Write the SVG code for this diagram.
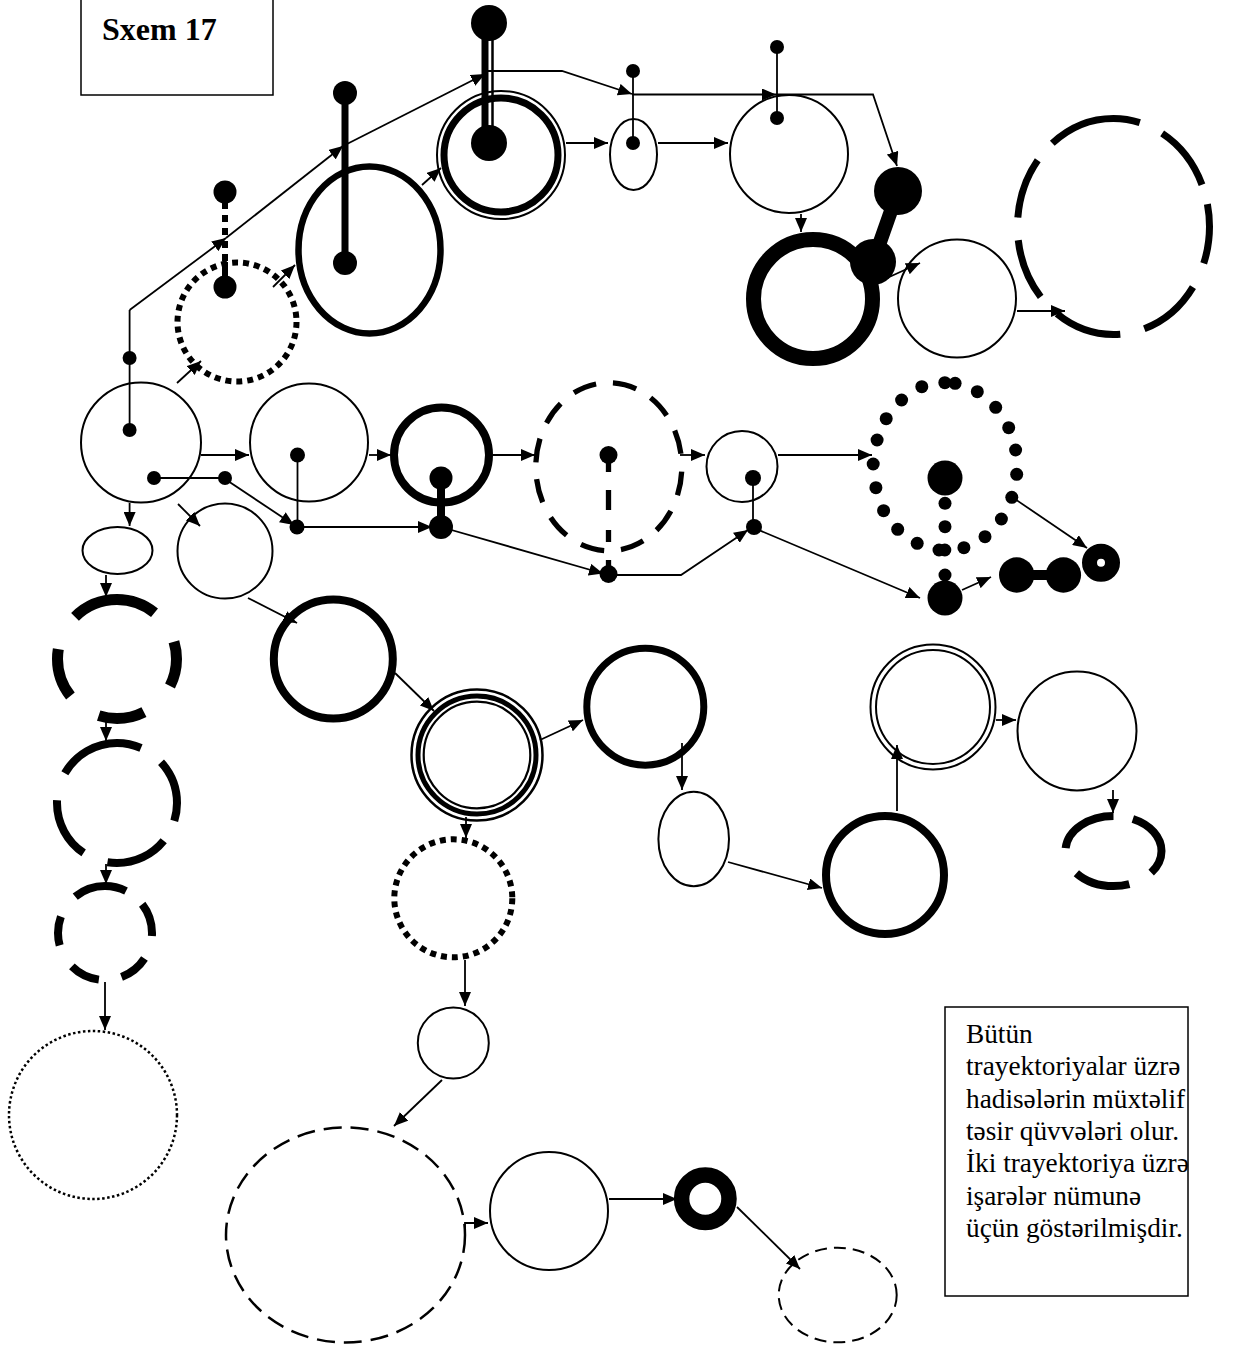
<svg xmlns="http://www.w3.org/2000/svg" width="1245" height="1351" viewBox="0 0 1245 1351">
<defs>
<marker id="ah" markerUnits="userSpaceOnUse" markerWidth="15" markerHeight="12" refX="14" refY="6" orient="auto">
<path d="M0,0 L14,6 L0,12 z" fill="#000"/>
</marker>
<style>
.thin{fill:none;stroke:#000;stroke-width:2}
.thick{fill:none;stroke:#000;stroke-width:7}
.sq{fill:none;stroke:#000;stroke-width:6;stroke-dasharray:6 5}
.dot{fill:#000}
.ln{fill:none;stroke:#000;stroke-width:1.8}
.arr{fill:none;stroke:#000;stroke-width:1.8;marker-end:url(#ah)}
.box{fill:#fff;stroke:#000;stroke-width:1.5}
.ttl{font-family:"Liberation Serif","Times New Roman",serif;font-weight:bold;font-size:32px}
.txt{font-family:"Liberation Serif","Times New Roman",serif;font-size:27.3px}
</style>
</defs>
<rect width="1245" height="1351" fill="#fff"/>

<g id="title">
<rect class="box" x="81" y="-10" width="192" height="105"/>
<text class="ttl" x="102" y="40">Sxem 17</text>
</g>

<g id="note">
<rect class="box" x="945" y="1007" width="243" height="289"/>
<text class="txt" x="966" y="1043">Bütün</text>
<text class="txt" x="966" y="1075">trayektoriyalar üzrə</text>
<text class="txt" x="966" y="1108">hadisələrin müxtəlif</text>
<text class="txt" x="966" y="1140">təsir qüvvələri olur.</text>
<text class="txt" x="966" y="1172">İki trayektoriya üzrə</text>
<text class="txt" x="966" y="1205">işarələr nümunə</text>
<text class="txt" x="966" y="1237">üçün göstərilmişdir.</text>
</g>

<g id="connectors">
<polyline class="ln" points="129.6,430 129.6,310"/>
<line class="arr" x1="129.6" y1="310" x2="226" y2="238"/>
<line class="arr" x1="226" y1="238" x2="343" y2="146"/>
<line class="arr" x1="345" y1="145" x2="485" y2="74"/>
<polyline class="arr" points="488,71 562,71 632,94"/>
<line class="arr" x1="632" y1="94.5" x2="776" y2="94.5"/>
<polyline class="arr" points="776,94.5 873,94.5 897,166"/>
<line class="arr" x1="201" y1="455" x2="249" y2="455"/>
<line class="arr" x1="369" y1="455" x2="391" y2="455"/>
<line class="arr" x1="493" y1="455" x2="535" y2="455"/>
<line class="arr" x1="680" y1="455" x2="705" y2="455"/>
<line class="arr" x1="778" y1="455" x2="872" y2="455"/>
<line class="ln" x1="154" y1="478" x2="225" y2="478"/>
<line class="arr" x1="225" y1="479" x2="294" y2="525"/>
<line class="ln" x1="297.5" y1="455" x2="297.5" y2="527"/>
<line class="arr" x1="297" y1="527" x2="432" y2="527"/>
<line class="arr" x1="441" y1="527" x2="603" y2="573.5"/>
<polyline class="arr" points="609,575 681,575 748,530"/>
<line class="ln" x1="753" y1="478" x2="753" y2="527"/>
<line class="arr" x1="754" y1="528" x2="920" y2="598"/>
<line class="arr" x1="962" y1="590" x2="991" y2="577"/>
<line class="arr" x1="1012" y1="497" x2="1087" y2="548"/>
<line class="arr" x1="129.6" y1="503" x2="129.6" y2="526"/>
<line class="arr" x1="178" y1="504" x2="200" y2="526"/>
<line class="arr" x1="106" y1="575" x2="106" y2="597"/>
<line class="arr" x1="106" y1="722" x2="106" y2="741"/>
<line class="arr" x1="106" y1="864" x2="106" y2="884"/>
<line class="arr" x1="105" y1="982" x2="105" y2="1030"/>
<line class="arr" x1="248" y1="598" x2="297" y2="623"/>
<line class="arr" x1="395" y1="673" x2="434" y2="711"/>
<line class="arr" x1="540" y1="740" x2="583" y2="720"/>
<line class="arr" x1="682" y1="743" x2="682" y2="790"/>
<line class="arr" x1="466" y1="817" x2="466" y2="838"/>
<line class="arr" x1="465" y1="960" x2="465" y2="1006"/>
<line class="arr" x1="442" y1="1080" x2="394" y2="1126"/>
<polyline class="arr" points="465,1233 465,1223 488,1223"/>
<line class="arr" x1="609" y1="1199" x2="677" y2="1199"/>
<line class="arr" x1="737" y1="1207" x2="800" y2="1269"/>
<line class="arr" x1="728" y1="862" x2="822" y2="888"/>
<line class="arr" x1="897" y1="811" x2="897" y2="745"/>
<line class="arr" x1="996" y1="720" x2="1016" y2="720"/>
<line class="arr" x1="1113" y1="790" x2="1113" y2="813"/>
<line class="arr" x1="422" y1="185" x2="441" y2="168"/>
<line class="arr" x1="566" y1="143" x2="608" y2="143"/>
<line class="arr" x1="658" y1="143" x2="728" y2="143"/>
<line class="arr" x1="801" y1="214" x2="801" y2="232"/>
<line class="arr" x1="887" y1="278" x2="920" y2="263"/>
<line class="arr" x1="1017" y1="311" x2="1065" y2="311"/>
<line class="arr" x1="177" y1="383" x2="201" y2="361"/>
<line class="arr" x1="273" y1="287" x2="295" y2="265"/>
</g>

<g id="nodeA">
<circle class="thin" cx="141" cy="442.5" r="60"/>
<circle class="dot" cx="129.6" cy="358" r="7"/>
<circle class="dot" cx="129.6" cy="430" r="7"/>
<circle class="dot" cx="154" cy="478" r="7"/>
<circle class="dot" cx="225" cy="478" r="7"/>
</g>
<g id="nodeB">
<circle class="sq" cx="237" cy="322" r="59.5"/>
<line x1="225" y1="202" x2="225" y2="262" stroke="#000" stroke-width="6" stroke-dasharray="7 6"/>
<line x1="225" y1="262" x2="225" y2="287" stroke="#000" stroke-width="6"/>
<circle class="dot" cx="225" cy="192" r="11.5"/>
<circle class="dot" cx="225" cy="287" r="11.5"/>
</g>
<g id="nodeC">
<ellipse cx="369.5" cy="250" rx="71" ry="83.5" fill="none" stroke="#000" stroke-width="6.5"/>
<line x1="345" y1="93" x2="345" y2="263" stroke="#000" stroke-width="7"/>
<circle class="dot" cx="345" cy="93" r="12"/>
<circle class="dot" cx="345" cy="263" r="12"/>
</g>
<g id="nodeD">
<circle class="thin" cx="501" cy="155" r="64"/>
<circle class="thick" cx="501" cy="155" r="57"/>
<line x1="485" y1="23" x2="485" y2="143" stroke="#000" stroke-width="7"/>
<line x1="492.5" y1="30" x2="492.5" y2="143" stroke="#000" stroke-width="2.5"/>
<circle class="dot" cx="489" cy="23" r="18"/>
<circle class="dot" cx="489" cy="143" r="18"/>
</g>
<g id="nodeE">
<ellipse class="thin" cx="633.5" cy="154.5" rx="23.5" ry="35.5"/>
<line class="ln" x1="633" y1="71" x2="633" y2="143"/>
<circle class="dot" cx="633" cy="71" r="7"/>
<circle class="dot" cx="633" cy="143" r="7"/>
</g>
<g id="nodeF">
<circle class="thin" cx="789" cy="154" r="59"/>
<line class="ln" x1="777" y1="47" x2="777" y2="118"/>
<circle class="dot" cx="777" cy="47" r="7"/>
<circle class="dot" cx="777" cy="118" r="7"/>
</g>
<g id="nodeG">
<circle cx="813" cy="299" r="59.5" fill="none" stroke="#000" stroke-width="15"/>
<line x1="898" y1="191" x2="873" y2="262" stroke="#000" stroke-width="14"/>
<circle class="dot" cx="898" cy="191" r="24"/>
<circle class="dot" cx="873" cy="262" r="23"/>
</g>
<g id="nodeH">
<circle class="thin" cx="957" cy="298.5" r="59"/>
</g>
<g id="nodeI">
<ellipse cx="1113.5" cy="226.5" rx="96" ry="108" fill="none" stroke="#000" stroke-width="7" pathLength="360" stroke-dasharray="21.1 14.6 36.6 13.8 38.4 13.2 34.5 12.9 34.4 12.5 53 14 37 11.3 12.7 0"/>
</g>
<g id="nodeJ">
<circle class="thin" cx="309" cy="442.5" r="59"/>
<circle class="dot" cx="297.5" cy="455" r="7.5"/>
<circle class="dot" cx="297" cy="527" r="7.5"/>
</g>
<g id="nodeK">
<circle cx="441.5" cy="455" r="47.5" fill="none" stroke="#000" stroke-width="8"/>
<line x1="441" y1="478" x2="441" y2="527" stroke="#000" stroke-width="8"/>
<circle class="dot" cx="441" cy="478" r="11.5"/>
<circle class="dot" cx="441" cy="527" r="12"/>
</g>
<g id="nodeL">
<ellipse cx="608.8" cy="466.7" rx="73" ry="84" fill="none" stroke="#000" stroke-width="5.3" stroke-dasharray="24 17" stroke-dashoffset="-5"/>
<line x1="608.5" y1="460" x2="608.5" y2="570" stroke="#000" stroke-width="5.3" stroke-dasharray="12 18 20 20"/>
<circle class="dot" cx="608.5" cy="455" r="9"/>
<circle class="dot" cx="608.5" cy="574" r="9"/>
</g>
<g id="nodeM">
<circle class="thin" cx="742" cy="466.5" r="35.5"/>
<circle class="dot" cx="753" cy="478" r="8"/>
<circle class="dot" cx="754" cy="527" r="8"/>
</g>
<g id="nodeN" fill="#000">
<circle cx="921.8" cy="386.7" r="6.5"/>
<circle cx="944.8" cy="382.7" r="6.5"/>
<circle cx="955.1" cy="383.3" r="6.5"/>
<circle cx="977.3" cy="391.7" r="6.5"/>
<circle cx="995.7" cy="407.3" r="6.5"/>
<circle cx="1008.7" cy="427.7" r="6.5"/>
<circle cx="1015.6" cy="450" r="6.5"/>
<circle cx="1016.7" cy="474.3" r="6.5"/>
<circle cx="1011.8" cy="497.3" r="6.5"/>
<circle cx="1001.4" cy="519" r="6.5"/>
<circle cx="985" cy="536.7" r="6.5"/>
<circle cx="963.9" cy="547.7" r="6.5"/>
<circle cx="944.8" cy="550" r="6.5"/>
<circle cx="939" cy="550" r="6.5"/>
<circle cx="917.2" cy="543.3" r="6.5"/>
<circle cx="897.7" cy="529.3" r="6.5"/>
<circle cx="883.6" cy="510.7" r="6.5"/>
<circle cx="875.9" cy="487.7" r="6.5"/>
<circle cx="873.2" cy="464" r="6.5"/>
<circle cx="877.1" cy="440" r="6.5"/>
<circle cx="886.2" cy="418.7" r="6.5"/>
<circle cx="901.6" cy="400" r="6.5"/>
<circle cx="945" cy="478" r="17.5"/>
<circle cx="945" cy="503.3" r="6.5"/>
<circle cx="945" cy="526.7" r="6.5"/>
<circle cx="945" cy="575" r="6.5"/>
<circle cx="945" cy="598" r="17.5"/>
</g>
<g id="nodeDumbbell">
<line x1="1016.7" y1="575" x2="1063.4" y2="575" stroke="#000" stroke-width="10"/>
<circle class="dot" cx="1016.7" cy="575" r="17.7"/>
<circle class="dot" cx="1063.4" cy="575" r="17.7"/>
</g>
<g id="nodeRing">
<circle cx="1101" cy="562.7" r="11.5" fill="none" stroke="#000" stroke-width="15"/>
</g>
<g id="nodeSmallEllipse">
<ellipse class="thin" cx="117.5" cy="550.5" rx="35" ry="23.5"/>
</g>
<g id="nodeP">
<circle class="thin" cx="225" cy="551" r="47.5"/>
</g>
<g id="nodeQ">
<circle cx="117" cy="659" r="59.5" fill="none" stroke="#000" stroke-width="11" pathLength="360" stroke-dasharray="27 36 45 33.5 48 35.6 84 34 17 0"/>
</g>
<g id="nodeR">
<circle cx="117" cy="803" r="60" fill="none" stroke="#000" stroke-width="8" pathLength="360" stroke-dasharray="17.4 21.5 60.3 24.6 58.9 27 83.9 23.6 42.8 0"/>
</g>
<g id="nodeS">
<circle cx="105" cy="933" r="47" fill="none" stroke="#000" stroke-width="8" pathLength="360" stroke-dasharray="3.8 29.1 36.5 28.2 37.2 29.8 35.7 30.4 65.9 25.7 37.7 0"/>
</g>
<g id="nodeU">
<circle cx="93" cy="1115" r="84" fill="none" stroke="#000" stroke-width="2.5" stroke-dasharray="2.5 2.5"/>
</g>
<g id="nodeV">
<circle cx="333.3" cy="659" r="59.5" fill="none" stroke="#000" stroke-width="8"/>
</g>
<g id="nodeW">
<circle cx="477" cy="755" r="65.5" fill="none" stroke="#000" stroke-width="2.5"/>
<circle cx="477" cy="755" r="59" fill="none" stroke="#000" stroke-width="5"/>
<circle cx="477" cy="755" r="53.3" fill="none" stroke="#000" stroke-width="2.2"/>
</g>
<g id="nodeX">
<circle cx="645.3" cy="706.7" r="58.5" fill="none" stroke="#000" stroke-width="7"/>
</g>
<g id="nodeY">
<ellipse class="thin" cx="693.7" cy="839" rx="35.3" ry="47.3"/>
</g>
<g id="nodeZ">
<circle class="sq" cx="453.3" cy="898.3" r="59"/>
</g>
<g id="nodeAA">
<circle class="thin" cx="453.3" cy="1043" r="35.5"/>
</g>
<g id="nodeBB">
<ellipse cx="345.5" cy="1235" rx="119.5" ry="107.5" fill="none" stroke="#000" stroke-width="2.5" stroke-dasharray="18 9"/>
</g>
<g id="nodeCC">
<circle class="thin" cx="549" cy="1211" r="59"/>
</g>
<g id="nodeDD">
<circle cx="705.3" cy="1198.7" r="23.7" fill="none" stroke="#000" stroke-width="15.5"/>
</g>
<g id="nodeEE">
<ellipse cx="837.7" cy="1295" rx="59" ry="47.3" fill="none" stroke="#000" stroke-width="2" stroke-dasharray="12 7"/>
</g>
<g id="nodeFF">
<circle cx="885" cy="875" r="59" fill="none" stroke="#000" stroke-width="8"/>
</g>
<g id="nodeGG">
<circle class="thin" cx="933" cy="707" r="62.5"/>
<circle class="thin" cx="933" cy="707" r="57"/>
</g>
<g id="nodeHH">
<circle class="thin" cx="1077" cy="731" r="59.5"/>
</g>
<g id="nodeT">
<ellipse cx="1113.5" cy="851" rx="48" ry="35" fill="none" stroke="#000" stroke-width="8" pathLength="360" stroke-dasharray="34 34 77 39 86 27 63 0"/>
</g>
</svg>
